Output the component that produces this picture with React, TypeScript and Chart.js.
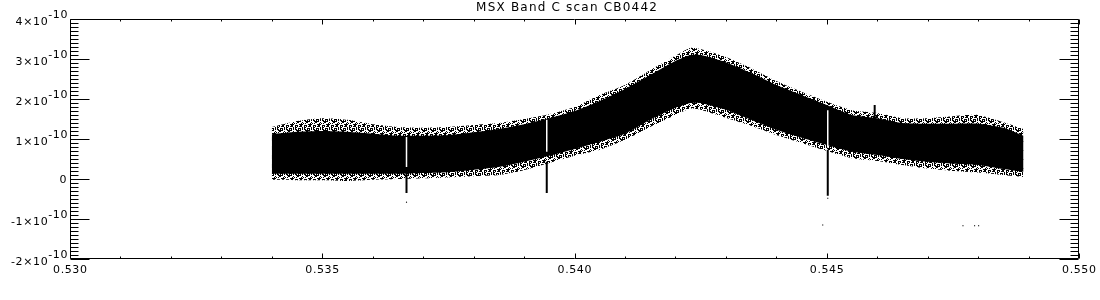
import { useEffect, useRef } from 'react';
import { Chart, registerables } from 'chart.js';

Chart.register(...registerables);

// ---- data ----
const titleText = 'MSX Band C scan CB0442';

const xMin = 0.53;
const xMax = 0.55;
const yMin = -2e-10;
const yMax = 4e-10;

const xTickValues = [0.53, 0.535, 0.54, 0.545, 0.55];
const xTickLabels = ['0.530', '0.535', '0.540', '0.545', '0.550'];
const yTickValues = [4e-10, 3e-10, 2e-10, 1e-10, 0, -1e-10, -2e-10];
const yTickMantissas = ['4', '3', '2', '1', '0', '-1', '-2'];
const yTickExponent = '-10';

// band envelope sampled along the scan
const bandX = [
  0.534, 0.5345, 0.535, 0.5355, 0.536, 0.5365, 0.537, 0.5375, 0.538, 0.5385,
  0.539, 0.5395, 0.54, 0.5405, 0.541, 0.5415, 0.542, 0.5423, 0.5425, 0.543,
  0.5435, 0.544, 0.5445, 0.545, 0.5455, 0.546, 0.5465, 0.547, 0.5475, 0.548,
  0.5485, 0.5489,
];
// dense core of the band (upper / lower edge)
const coreTop = [
  1.12e-10, 1.18e-10, 1.2e-10, 1.18e-10, 1.13e-10, 1.08e-10, 1.08e-10, 1.1e-10, 1.17e-10, 1.25e-10,
  1.37e-10, 1.52e-10, 1.7e-10, 1.95e-10, 2.25e-10, 2.6e-10, 2.95e-10, 3.1e-10, 3.1e-10, 2.92e-10,
  2.65e-10, 2.35e-10, 2.1e-10, 1.85e-10, 1.6e-10, 1.52e-10, 1.4e-10, 1.38e-10, 1.38e-10, 1.38e-10,
  1.28e-10, 1.08e-10,
];
const coreBottom = [
  0.13e-10, 0.13e-10, 0.13e-10, 0.13e-10, 0.13e-10, 0.13e-10, 0.15e-10, 0.17e-10, 0.23e-10, 0.3e-10,
  0.43e-10, 0.58e-10, 0.75e-10, 0.93e-10, 1.13e-10, 1.48e-10, 1.78e-10, 1.9e-10, 1.9e-10, 1.73e-10,
  1.48e-10, 1.23e-10, 1.03e-10, 0.85e-10, 0.68e-10, 0.6e-10, 0.5e-10, 0.43e-10, 0.38e-10, 0.35e-10,
  0.25e-10, 0.18e-10,
];
// sparse scattered fringe around the core
const fringeTop = [
  1.3e-10, 1.45e-10, 1.52e-10, 1.48e-10, 1.37e-10, 1.3e-10, 1.28e-10, 1.3e-10, 1.35e-10, 1.4e-10,
  1.5e-10, 1.62e-10, 1.8e-10, 2.1e-10, 2.35e-10, 2.72e-10, 3.08e-10, 3.28e-10, 3.25e-10, 3.05e-10,
  2.77e-10, 2.45e-10, 2.18e-10, 1.93e-10, 1.72e-10, 1.65e-10, 1.52e-10, 1.52e-10, 1.57e-10, 1.6e-10,
  1.42e-10, 1.25e-10,
];
const fringeBottom = [
  -0.02e-10, -0.03e-10, -0.03e-10, -0.05e-10, -0.02e-10, 0.0, 0.02e-10, 0.04e-10, 0.07e-10, 0.1e-10,
  0.22e-10, 0.4e-10, 0.58e-10, 0.73e-10, 0.98e-10, 1.3e-10, 1.6e-10, 1.76e-10, 1.73e-10, 1.53e-10,
  1.33e-10, 1.1e-10, 0.9e-10, 0.7e-10, 0.52e-10, 0.45e-10, 0.35e-10, 0.26e-10, 0.2e-10, 0.16e-10,
  0.1e-10, 0.05e-10,
];

// glitches: white gaps through the band, and dark spikes
const gapX = [0.53667, 0.53945, 0.54502];
const gapTop = [1.05e-10, 1.48e-10, 1.72e-10];
const gapBottom = [0.3e-10, 0.68e-10, 0.78e-10];

const spikeX = [0.53667, 0.53945, 0.54502, 0.54595];
const spikeTop = [0.15e-10, 0.43e-10, 0.73e-10, 1.85e-10];
const spikeBottom = [-0.35e-10, -0.35e-10, -0.42e-10, 1.43e-10];

// isolated points
const strayX = [0.53667, 0.54502, 0.54492, 0.5477, 0.54793, 0.54801];
const strayY = [-0.58e-10, -0.48e-10, -1.15e-10, -1.17e-10, -1.17e-10, -1.17e-10];

// ---- drawing helpers ----
function makeSpeckle(): CanvasPattern | string {
  const size = 9;
  const c = document.createElement('canvas');
  c.width = size;
  c.height = size;
  const g = c.getContext('2d');
  if (!g) return '#000';
  g.fillStyle = '#000';
  // fixed irregular dither mask (a fill style, not data)
  for (let r = 0; r < size; r++) {
    for (let q = 0; q < size; q++) {
      const h = (q * 5 + r * 7 + q * r * 3 + ((q ^ r) & 3)) % 9;
      if (h < 4) g.fillRect(q, r, 1, 1);
    }
  }
  const p = g.createPattern(c, 'repeat');
  return p || '#000';
}

const idlAxes = {
  id: 'idlAxes',
  afterDraw(chart: any) {
    const { ctx, chartArea, scales } = chart;
    const xs = scales.x;
    const ys = scales.y;
    const L = Math.round(chartArea.left) + 0.5;
    const R = Math.round(chartArea.right) - 0.5;
    const T = Math.round(chartArea.top) + 0.5;
    const B = Math.round(chartArea.bottom) - 0.5;
    ctx.save();
    ctx.strokeStyle = '#000';
    ctx.lineWidth = 1;
    ctx.beginPath();
    ctx.rect(L, T, R - L, B - T);
    ctx.stroke();

    // y ticks (major every 1e-10, 10 minor intervals)
    ctx.beginPath();
    for (let i = 0; i <= 60; i++) {
      const v = (i - 20) * 1e-11;
      const py = Math.round(ys.getPixelForValue(v)) + 0.5;
      const len = i % 10 === 0 ? 19 : 8;
      ctx.moveTo(L, py);
      ctx.lineTo(L + len, py);
      ctx.moveTo(R, py);
      ctx.lineTo(R - len, py);
    }
    // x ticks (major every 0.005, minor every 0.001)
    for (let i = 0; i <= 20; i++) {
      const v = xMin + i * 0.001;
      const px = Math.round(xs.getPixelForValue(v)) + 0.5;
      const len = i % 5 === 0 ? 5 : 2;
      ctx.moveTo(px, B);
      ctx.lineTo(px, B - len);
      ctx.moveTo(px, T);
      ctx.lineTo(px, T + len);
    }
    ctx.stroke();

    ctx.fillStyle = '#000';
    ctx.font = "11px 'DejaVu Sans'";
    (ctx as any).letterSpacing = '0.6px';

    // x labels
    ctx.textAlign = 'left';
    ctx.textBaseline = 'middle';
    xTickValues.forEach((v, i) => {
      const px = xs.getPixelForValue(v);
      const w = ctx.measureText(xTickLabels[i]).width - 0.6;
      ctx.fillText(xTickLabels[i], px - w / 2, 270);
    });

    // y labels with superscript exponent
    const rightEdge = 67;
    yTickValues.forEach((v, i) => {
      const py = ys.getPixelForValue(v);
      const m = yTickMantissas[i];
      if (m === '0') {
        const w = ctx.measureText('0').width;
        ctx.fillText('0', rightEdge - w, py + 1);
        return;
      }
      const base = m + '\u00d710';
      const wSup = ctx.measureText(yTickExponent).width;
      const wBase = ctx.measureText(base).width;
      const x0 = rightEdge - wSup - wBase + 1;
      ctx.fillText(base, x0, py + 3);
      ctx.fillText(yTickExponent, x0 + wBase, py - 4);
    });

    // title
    ctx.font = "12px 'DejaVu Sans'";
    (ctx as any).letterSpacing = '1.2px';
    const tw = ctx.measureText(titleText).width - 1.2;
    ctx.fillText(titleText, (chartArea.left + chartArea.right) / 2 - tw / 2 - 8, 8);
    ctx.restore();
  },
};

export default function App() {
  const ref = useRef<HTMLCanvasElement>(null);

  useEffect(() => {
    document.body.style.margin = '0';
    const canvas = ref.current;
    if (!canvas) return;
    const speckle = makeSpeckle();
    const band = (vals: number[]) => bandX.map((x, i) => ({ x, y: vals[i] }));
    const bandStyle = {
      showLine: false,
      borderWidth: 0,
      borderColor: 'transparent',
      pointRadius: 0,
      tension: 0.2,
    };
    const datasets: any[] = [
      { ...bandStyle, data: band(fringeTop), fill: '+1', backgroundColor: speckle, order: 6 },
      { ...bandStyle, data: band(fringeBottom), fill: false, order: 6 },
      { ...bandStyle, data: band(coreTop), fill: '+1', backgroundColor: '#000', order: 5 },
      { ...bandStyle, data: band(coreBottom), fill: false, order: 5 },
    ];
    gapX.forEach((x, i) => {
      datasets.push({
        data: [
          { x, y: gapTop[i] },
          { x, y: gapBottom[i] },
        ],
        borderColor: '#fff',
        borderWidth: 1.5,
        pointRadius: 0,
        fill: false,
        order: 4,
      });
    });
    spikeX.forEach((x, i) => {
      datasets.push({
        data: [
          { x, y: spikeTop[i] },
          { x, y: spikeBottom[i] },
        ],
        borderColor: '#000',
        borderWidth: 2,
        pointRadius: 0,
        fill: false,
        order: 3,
      });
    });
    datasets.push({
      data: strayX.map((x, i) => ({ x, y: strayY[i] })),
      showLine: false,
      pointRadius: 0.8,
      pointStyle: 'rect',
      pointBorderWidth: 0,
      pointBackgroundColor: '#000',
      order: 2,
    });

    const chart = new Chart(canvas, {
      type: 'line',
      data: { datasets },
      options: {
        responsive: false,
        animation: false,
        devicePixelRatio: 1,
        events: [],
        layout: { padding: { left: 70, right: 21, top: 19, bottom: 41 } },
        scales: {
          x: { type: 'linear', min: xMin, max: xMax, display: false },
          y: { type: 'linear', min: yMin, max: yMax, display: false },
        },
        plugins: {
          legend: { display: false },
          tooltip: { enabled: false },
          title: { display: false },
        },
      },
      plugins: [idlAxes],
    } as any);
    return () => chart.destroy();
  }, []);

  return <canvas ref={ref} width={1100} height={300} style={{ display: 'block' }} />;
}
